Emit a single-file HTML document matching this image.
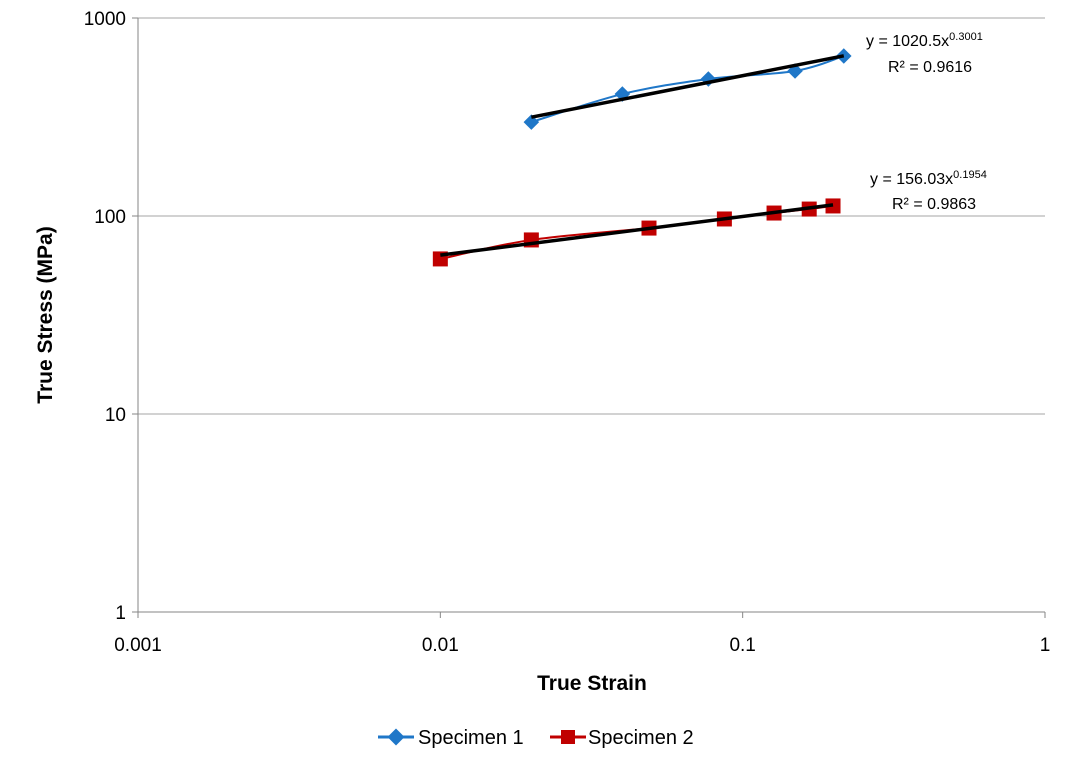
<!DOCTYPE html>
<html><head><meta charset="utf-8"><style>
html,body{margin:0;padding:0;background:#fff;}
svg text{font-family:"Liberation Sans",Arial,sans-serif;}
</style></head><body>
<svg id="chart" width="1075" height="758" viewBox="0 0 1075 758" xmlns="http://www.w3.org/2000/svg">
<g id="grid"></g>
<g id="axes"></g>
<g id="series"></g>
<text x="0" y="0" transform="translate(52,315) rotate(-90)" text-anchor="middle" font-size="21" font-weight="bold" fill="#000">True Stress (MPa)</text>
<text x="592" y="690" text-anchor="middle" font-size="21" font-weight="bold" fill="#000">True Strain</text>
<g>
<text x="866" y="46" font-size="16" fill="#000">y = 1020.5x<tspan dy="-6" font-size="11">0.3001</tspan></text>
<text x="888" y="72" font-size="16" fill="#000">R² = 0.9616</text>
</g>
<g>
<text x="870" y="184" font-size="16" fill="#000">y = 156.03x<tspan dy="-6" font-size="11">0.1954</tspan></text>
<text x="892" y="209" font-size="16" fill="#000">R² = 0.9863</text>
</g>
<g>
<g>
<line x1="378" y1="737" x2="414" y2="737" stroke="#1f77c8" stroke-width="3"/>
<rect x="390" y="731" width="12" height="12" fill="#1f77c8" transform="rotate(45 396 737)"/>
<text x="418" y="744" font-size="20" fill="#000">Specimen 1</text>
</g>
<g>
<line x1="550" y1="737" x2="586" y2="737" stroke="#c00000" stroke-width="3"/>
<rect x="561" y="730" width="14" height="14" fill="#c00000"/>
<text x="588" y="744" font-size="20" fill="#000">Specimen 2</text>
</g>
</g>
</svg>
<script>
const xTicks=[0.001,0.01,0.1,1];
const xTickLabels=["0.001","0.01","0.1","1"];
const yTicks=[1,10,100,1000];
const yTickLabels=["1","10","100","1000"];
const s1Strain=[0.020,0.040,0.077,0.149,0.216];
const s1Stress=[298,413,492,540,643];
const s2Strain=[0.010,0.020,0.049,0.087,0.127,0.166,0.199];
const s2Stress=[60.7,75.7,86.9,96.6,103.5,108.4,112.4];
const fit1=[1020.5,0.3001];
const fit2=[156.03,0.1954];

const NS="http://www.w3.org/2000/svg";
const L=138,R=1045,T=18,B=612;
function xs(v){return L+(Math.log10(v)+3)/3*(R-L);}
function ys(v){return B-Math.log10(v)/3*(B-T);}
function mk(tag,attrs,parent){const e=document.createElementNS(NS,tag);for(const k in attrs)e.setAttribute(k,attrs[k]);parent.appendChild(e);return e;}
const grid=document.getElementById('grid'),axes=document.getElementById('axes'),ser=document.getElementById('series');
yTicks.forEach((t,i)=>{
  if(t>1){const g=mk('line',{x1:L,x2:R,y1:ys(t),y2:ys(t),stroke:'#a6a6a6','stroke-width':1},grid);
  
  }
  const tk=mk('line',{x1:L-6,x2:L,y1:ys(t),y2:ys(t),stroke:'#868686'},axes);
  
  
  const tx=mk('text',{x:L-12,y:ys(t)+7,'text-anchor':'end','font-size':19,fill:'#000'},axes);
  tx.textContent=yTickLabels[i];
  
  
});
xTicks.forEach((t,i)=>{
  const tk=mk('line',{x1:xs(t),x2:xs(t),y1:B,y2:B+6,stroke:'#868686'},axes);
  
  
  const tx=mk('text',{x:xs(t),y:B+39,'text-anchor':'middle','font-size':19,fill:'#000'},axes);
  tx.textContent=xTickLabels[i];
  
  
});
const ya=mk('line',{x1:L,x2:L,y1:T,y2:B,stroke:'#868686'},axes);


const xa=mk('line',{x1:L,x2:R,y1:B,y2:B,stroke:'#868686'},axes);



function smooth(pts){
  let d='M'+pts[0][0]+','+pts[0][1];
  for(let i=0;i<pts.length-1;i++){
    const p0=pts[i-1]||pts[i],p1=pts[i],p2=pts[i+1],p3=pts[i+2]||p2;
    const c1=[p1[0]+(p2[0]-p0[0])/6,p1[1]+(p2[1]-p0[1])/6];
    const c2=[p2[0]-(p3[0]-p1[0])/6,p2[1]-(p3[1]-p1[1])/6];
    d+=' C'+c1+' '+c2+' '+p2;
  }
  return d;
}
function drawSeries(xv,yv,color,shape,name,fit){
  const pts=xv.map((x,i)=>[xs(x),ys(yv[i])]);
  const p=mk('path',{d:smooth(pts),fill:'none',stroke:color,'stroke-width':2},ser);
  
  
  pts.forEach(q=>{
    let m;
    if(shape==='diamond') m=mk('rect',{x:q[0]-5.5,y:q[1]-5.5,width:11,height:11,fill:color,transform:`rotate(45 ${q[0]} ${q[1]})`},ser);
    else m=mk('rect',{x:q[0]-7.5,y:q[1]-7.5,width:15,height:15,fill:color},ser);
    
    
  });
  const x0=Math.min(...xv),x1=Math.max(...xv);
  const t=mk('line',{x1:xs(x0),y1:ys(fit[0]*Math.pow(x0,fit[1])),x2:xs(x1),y2:ys(fit[0]*Math.pow(x1,fit[1])),stroke:'#000','stroke-width':3.5},ser);
  
  
}
drawSeries(s1Strain,s1Stress,'#1f77c8','diamond','specimen-1',fit1);
drawSeries(s2Strain,s2Stress,'#c00000','square','specimen-2',fit2);
</script>
</body></html>
